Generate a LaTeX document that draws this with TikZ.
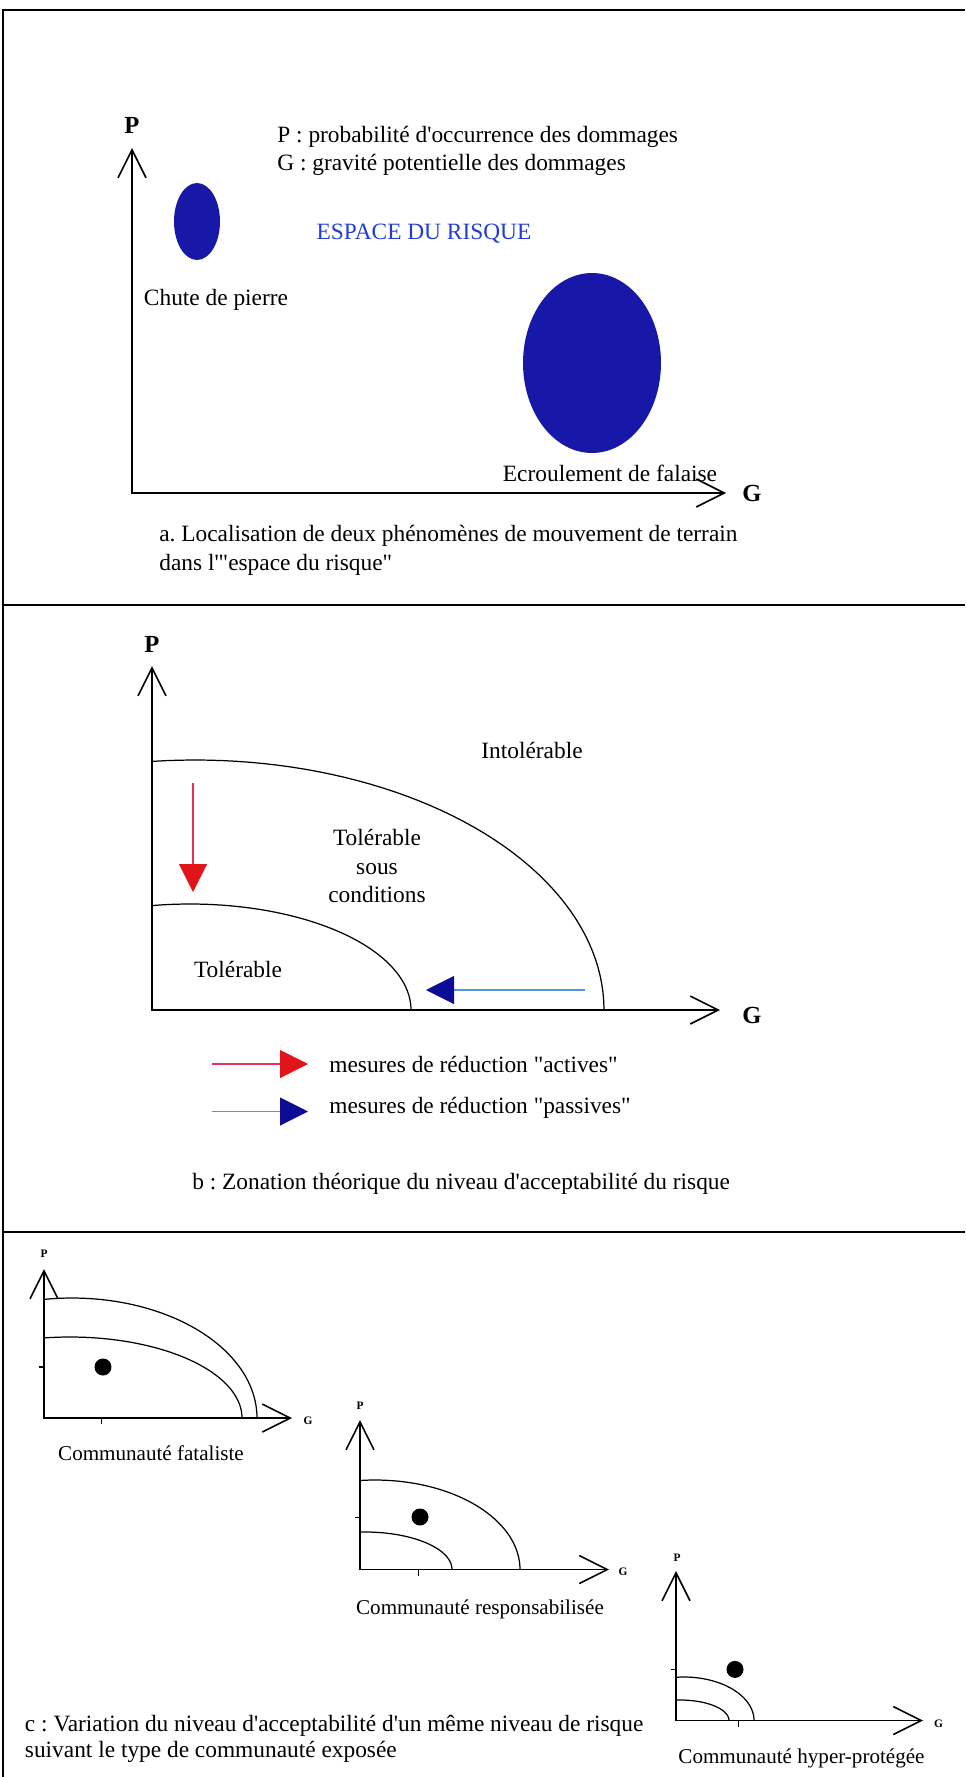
\documentclass[tikz,border=0pt]{standalone}
\usepackage{fontspec}
\setmainfont{Liberation Serif}[Ligatures=TeXOff]
\usepackage{tikz}
\usetikzlibrary{positioning,arrows.meta,shapes,calc}
\definecolor{bleufonce}{RGB}{24,24,168}
\definecolor{bleutitre}{RGB}{35,60,215}
\definecolor{rougepointe}{RGB}{225,20,25}
\definecolor{rougetrait}{RGB}{232,45,95}
\definecolor{bleupointe}{RGB}{12,12,150}
\definecolor{bleutrait}{RGB}{80,150,225}
\frenchspacing

\begin{document}
\begin{tikzpicture}[x=0.02cm, y=-0.02cm,
    texte/.style={font=\fontsize{13.3}{16}\selectfont, inner sep=0pt},
    petit/.style={font=\fontsize{12}{14}\selectfont, inner sep=0pt},
    axelabel/.style={font=\fontsize{14}{16}\selectfont\bfseries, inner sep=0pt},
    miniaxe/.style={font=\fontsize{6.5}{7}\selectfont\bfseries, inner sep=0pt},
    axe/.style={line width=0.9pt, {Straight Barb[length=0.56cm,width=0.56cm]}-{Straight Barb[length=0.56cm,width=0.56cm]}},
    seuil/.style={line width=0.7pt, samples=50},
    cadre/.style={line width=1pt},
    phenomene/.style={ellipse, fill=bleufonce, draw=none, inner sep=0pt},
    point/.style={circle, fill=black, inner sep=0pt, minimum size=0.34cm},
    active/.style={draw=rougetrait, line width=0.6pt, -{Triangle[length=0.56cm,width=0.56cm,color=rougepointe]}},
    passive/.style={draw=bleutrait, line width=0.6pt, -{Triangle[length=0.56cm,width=0.56cm,color=bleupointe]}}
]
    \useasboundingbox (0,0) rectangle (965,1777);
    \draw[cadre] (3,1777) -- (3,10) -- (965,10);

    % a
    \coordinate (Pa) at (132,148);
    \coordinate (Ga) at (726,493);
    \draw[axe] (Pa) |- (Ga);
    \node[axelabel] (pa) at (132,125) {P};
    \node[axelabel] (ga) at (752,493) {G};
    \node[texte, anchor=west] (lp) at (277,137) {P : probabilité d'occurrence des dommages};
    \node[texte, anchor=west] (lg) at (277,165) {G : gravité potentielle des dommages};
    \node[texte, text=bleutitre] (espace) at (424,234) {ESPACE DU RISQUE};
    \node[phenomene, minimum width=0.92cm, minimum height=1.54cm] (chute) at (197,221.5) {};
    \node[texte] (lchute) at (216,300) {Chute de pierre};
    \node[phenomene, minimum width=2.76cm, minimum height=3.6cm] (ecroul) at (592,363) {};
    \node[texte] (lecroul) at (610,473) {Ecroulement de falaise};
    \node[texte, anchor=west] (capa1) at (159,536) {a. Localisation de deux phénomènes de mouvement de terrain};
    \node[texte, anchor=west] (capa2) at (159,564.5) {dans l'"espace du risque"};

    % b
    \draw[cadre] (3,605) -- (965,605);
    \coordinate (Pb) at (152,666);
    \coordinate (Gb) at (720,1010);
    \draw[axe] (Pb) |- (Gb);
    \node[axelabel] (pb) at (152,644) {P};
    \node[axelabel] (gb) at (752,1015) {G};
    \draw[seuil] plot[domain=96:0] ({195+409*cos(\x)}, {1010-250*sin(\x)});
    \draw[seuil] plot[domain=100:0] ({190+221*cos(\x)}, {1010-106*sin(\x)});
    \node[texte] (intol) at (532,750) {Intolérable};
    \node[texte, align=center] (tolcond) at (377,866) {Tolérable\\sous\\conditions};
    \node[texte] (tol) at (238,969) {Tolérable};
    \coordinate (ra) at (193,783);
    \coordinate (rb) at (193,892);
    \draw[active] (ra) -- (rb);
    \coordinate (ba) at (585,990);
    \coordinate (bb) at (426,990);
    \draw[passive] (ba) -- (bb);
    \coordinate (la1) at (212,1064);
    \coordinate (la2) at (308,1064);
    \draw[active] (la1) -- (la2);
    \node[texte, anchor=west] (lact) at (329,1064) {mesures de réduction "actives"};
    \coordinate (lp1) at (212,1111.5);
    \coordinate (lp2) at (308,1111.5);
    \draw[passive] (lp1) -- (lp2);
    \node[texte, anchor=west] (lpass) at (329,1108) {mesures de réduction "passives"};
    \node[texte, anchor=west] (capb) at (192,1184) {b : Zonation théorique du niveau d'acceptabilité du risque};

    % c
    \draw[cadre] (3,1232) -- (965,1232);
    \coordinate (P1) at (44,1269);
    \coordinate (G1) at (292,1418);
    \draw[axe] (P1) |- (G1);
    \node[miniaxe] (p1) at (44,1254) {P};
    \node[miniaxe] (g1) at (308,1421) {G};
    \draw[seuil] plot[domain=98.7:0] ({72+185*cos(\x)}, {1418-120*sin(\x)});
    \draw[seuil] plot[domain=98.7:0] ({70+172*cos(\x)}, {1418-81*sin(\x)});
    \draw[seuil] (39,1367) -- (44,1367);
    \draw[seuil] (101.5,1418) -- (101.5,1424);
    \node[point] (d1) at (103,1367) {};
    \node[petit] (l1) at (151,1453) {Communauté fataliste};

    \coordinate (P2) at (360,1420);
    \coordinate (G2) at (609,1569.5);
    \draw[axe] (P2) |- (G2);
    \node[miniaxe] (p2) at (360,1406) {P};
    \node[miniaxe] (g2) at (623,1572) {G};
    \draw[seuil] plot[domain=96:0] ({375+145*cos(\x)}, {1569.5-89.5*sin(\x)});
    \draw[seuil] plot[domain=93.3:0] ({365+87*cos(\x)}, {1569.5-37.5*sin(\x)});
    \draw[seuil] (355,1517.7) -- (360,1517.7);
    \draw[seuil] (418.5,1569.5) -- (418.5,1575.5);
    \node[point] (d2) at (420,1517) {};
    \node[petit] (l2) at (480,1609) {Communauté responsabilisée};

    \coordinate (P3) at (676,1571);
    \coordinate (G3) at (923,1720.5);
    \draw[axe] (P3) |- (G3);
    \node[miniaxe] (p3) at (677,1558) {P};
    \node[miniaxe] (g3) at (938.5,1724) {G};
    \draw[seuil] plot[domain=96.6:0] ({684+70*cos(\x)}, {1720.5-43.5*sin(\x)});
    \draw[seuil] plot[domain=94.7:0] ({680+49*cos(\x)}, {1720.5-20.5*sin(\x)});
    \draw[seuil] (671,1669.4) -- (676,1669.4);
    \draw[seuil] (738.5,1720.5) -- (738.5,1726.5);
    \node[point] (d3) at (735,1669.4) {};
    \node[petit] (l3) at (801.5,1758.5) {Communauté hyper-protégée};

    \node[texte, anchor=west] (capc1) at (24.6,1726) {c : Variation du niveau d'acceptabilité d'un même niveau de risque};
    \node[texte, anchor=west] (capc2) at (24.6,1751.5) {suivant le type de communauté exposée};
\end{tikzpicture}
\end{document}
